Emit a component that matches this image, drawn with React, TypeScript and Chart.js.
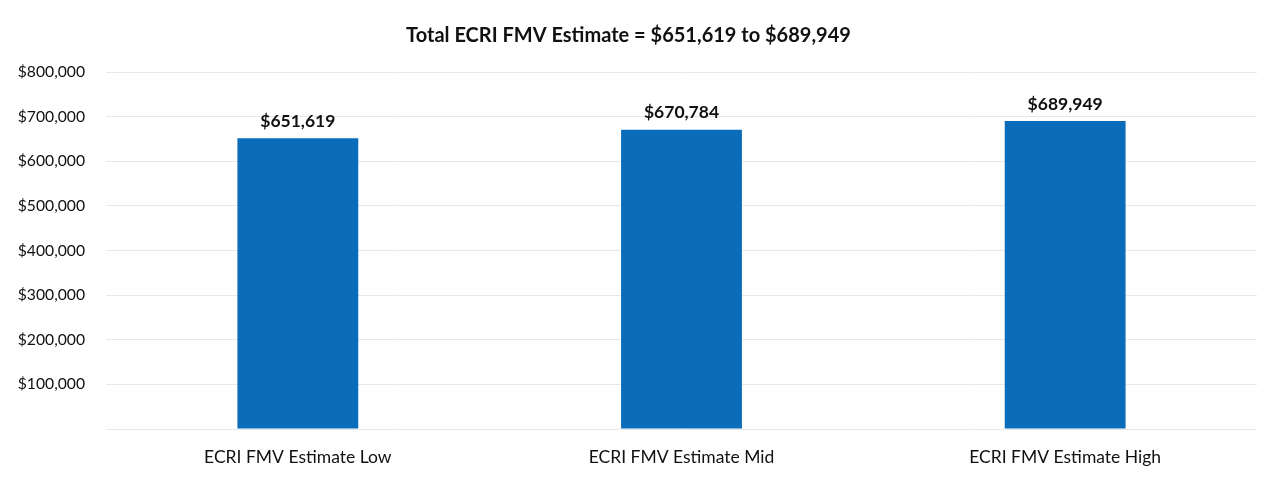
import React, { useEffect, useRef } from "react";
import { Chart, registerables } from "chart.js";

Chart.register(...registerables);

const categories: string[] = ["ECRI FMV Estimate Low", "ECRI FMV Estimate Mid", "ECRI FMV Estimate High"];
const values: number[] = [651619, 670784, 689949];
const chartTitle = "Total ECRI FMV Estimate = $651,619 to $689,949";
const yMax = 800000;
const yStep = 100000;

const fmt = (v: number) => "$" + v.toLocaleString("en-US");

const FONT = "Lato, 'Liberation Sans', sans-serif";

const valueLabels = {
  id: "valueLabels",
  afterDatasetsDraw(chart: any) {
    const ctx = chart.ctx;
    const meta = chart.getDatasetMeta(0);
    ctx.save();
    ctx.font = `bold 17.5px ${FONT}`;
    ctx.fillStyle = "#111";
    ctx.textAlign = "center";
    ctx.textBaseline = "middle";
    meta.data.forEach((bar: any, i: number) => {
      ctx.fillText(fmt(values[i]), bar.x, bar.y - 17);
    });
    ctx.restore();
  },
};

export default function App() {
  const ref = useRef<HTMLCanvasElement | null>(null);
  useEffect(() => {
    if (!ref.current) return;
    const chart = new Chart(ref.current, {
      type: "bar",
      data: {
        labels: categories,
        datasets: [
          {
            data: values,
            backgroundColor: "#0B6DBA",
            barPercentage: 0.315,
            categoryPercentage: 1,
          },
        ],
      },
      options: {
        animation: false,
        responsive: true,
        maintainAspectRatio: false,
        layout: { padding: { left: 0, right: 21, top: 0, bottom: 0 } },
        plugins: {
          legend: { display: false },
          tooltip: { enabled: false },
          title: {
            display: true,
            text: chartTitle,
            color: "#111",
            font: { family: FONT, size: 20, weight: "bold" },
            padding: { top: 24, bottom: 24 },
          },
        },
        scales: {
          x: {
            grid: { display: false, drawTicks: false },
            border: { display: false },
            ticks: {
              color: "#111",
              font: { family: FONT, size: 17.5 },
              padding: 18,
              maxRotation: 0,
            },
            afterFit: (s: any) => {
              s.height = 48;
            },
          },
          y: {
            min: 0,
            max: yMax,
            grid: { color: "#e8e8e8", drawTicks: false },
            border: { display: false },
            ticks: {
              stepSize: yStep,
              color: "#111",
              font: { family: FONT, size: 15.7 },
              padding: 21,
              callback: (v: any) => (Number(v) === 0 ? "" : fmt(Number(v))),
            },
            afterFit: (s: any) => {
              s.width = 106;
            },
          },
        },
      },
      plugins: [valueLabels],
    });
    return () => chart.destroy();
  }, []);
  return (
    <div style={{ position: "fixed", left: 0, top: 0, width: 1278, height: 477, background: "#fff" }}>
      <canvas ref={ref} />
    </div>
  );
}
